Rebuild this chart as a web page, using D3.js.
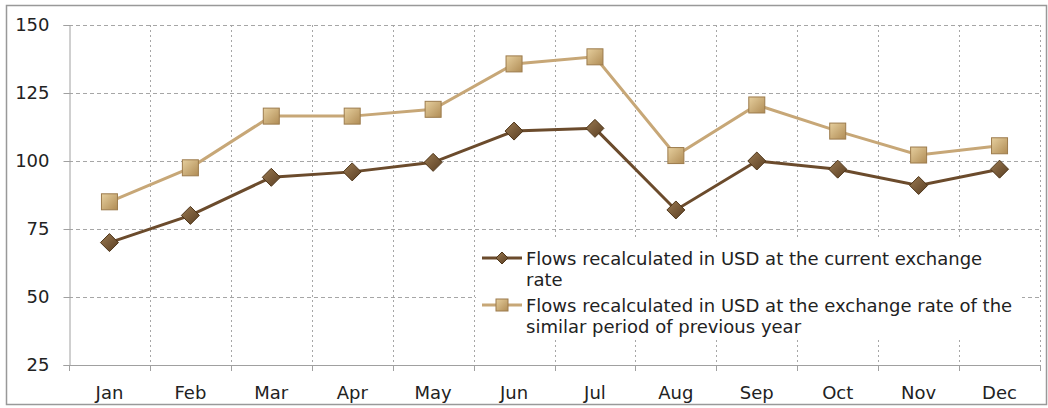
<!DOCTYPE html>
<html><head><meta charset="utf-8">
<script src="https://cdn.jsdelivr.net/npm/d3@7/dist/d3.min.js"></script>
<style>body{margin:0;background:#fff}svg{display:block}</style>
</head><body><svg id="c" width="1048" height="408"></svg>
<script>
const months = ["Jan","Feb","Mar","Apr","May","Jun","Jul","Aug","Sep","Oct","Nov","Dec"];
const current = [70, 80, 94, 96, 99.5, 111, 112, 82, 100, 97, 91, 97];
const previous = [85, 97.5, 116.5, 116.5, 119, 135.7, 138.3, 102, 120.6, 111, 102.2, 105.6];
const yTicks = [25, 50, 75, 100, 125, 150];
const legendLabels = [
  ["Flows recalculated in USD at the current exchange", "rate"],
  ["Flows recalculated in USD at the exchange rate of the", "similar period of previous year"]
];

const svg = d3.select("#c");
const font = "DejaVu Sans, Verdana, sans-serif";
const L = 69, R = 1040, T = 25, B = 365;
const x = d3.scaleBand().domain(months).range([L, R]);
const y = d3.scaleLinear().domain([25, 150]).range([B, T]);

const defs = svg.append("defs");
const g1 = defs.append("linearGradient").attr("id","gDark").attr("x1","0").attr("y1","0").attr("x2","1").attr("y2","1");
g1.append("stop").attr("offset","0").attr("stop-color","#9a7a52");
g1.append("stop").attr("offset","1").attr("stop-color","#5a3e22");
const g2 = defs.append("linearGradient").attr("id","gLight").attr("x1","0").attr("y1","0").attr("x2","1").attr("y2","1");
g2.append("stop").attr("offset","0").attr("stop-color","#e6cf9e");
g2.append("stop").attr("offset","1").attr("stop-color","#b08c55");

// outer border
svg.append("rect").attr("x",6.5).attr("y",5.5).attr("width",1040).attr("height",399)
  .attr("fill","none").attr("stroke","#999").attr("stroke-width",1.5);

// horizontal grid
svg.append("g").selectAll("line").data(yTicks.filter(d=>d>25)).join("line")
  .attr("x1",L).attr("x2",R).attr("y1",d=>Math.round(y(d))+0.5).attr("y2",d=>Math.round(y(d))+0.5)
  .attr("stroke","#a6a6a6").attr("stroke-dasharray","4,3");
// vertical grid at band boundaries
const bounds = months.map(m => x(m)).slice(1).concat([R]);
svg.append("g").selectAll("line").data(bounds).join("line")
  .attr("x1",d=>Math.round(d)+0.5).attr("x2",d=>Math.round(d)+0.5).attr("y1",T).attr("y2",B)
  .attr("stroke","#a6a6a6").attr("stroke-dasharray","2,3");

// axes
const yAxis = svg.append("g").attr("transform",`translate(${L+0.5},0)`)
  .call(d3.axisLeft(y).tickValues(yTicks).tickSize(6).tickPadding(14));
yAxis.select(".domain").attr("stroke","#a0a0a0");
yAxis.selectAll(".tick line").attr("stroke","#a0a0a0");
yAxis.selectAll("text").attr("font-family",font).attr("font-size",18).attr("fill","#222");

const xAxis = svg.append("g").attr("transform",`translate(0,${B+0.5})`)
  .call(d3.axisBottom(x).tickSize(0).tickPadding(21));
xAxis.select(".domain").attr("stroke","#a0a0a0").attr("d",`M${L},0H${R}`);
xAxis.selectAll("text").attr("font-family",font).attr("font-size",18).attr("fill","#222");
svg.append("g").selectAll("line").data([L].concat(bounds)).join("line")
  .attr("x1",d=>Math.round(d)+0.5).attr("x2",d=>Math.round(d)+0.5).attr("y1",B).attr("y2",B+6)
  .attr("stroke","#a0a0a0");

const cx = m => x(m) + x.bandwidth()/2;
const line = d3.line().x((d,i)=>cx(months[i])).y(d=>y(d));

// lines
svg.append("path").datum(previous).attr("d",line).attr("fill","none").attr("stroke","#c7a777").attr("stroke-width",3);
svg.append("path").datum(current).attr("d",line).attr("fill","none").attr("stroke","#6b4b2c").attr("stroke-width",3);

function square(g, px, py){
  g.append("rect").attr("x",px-8).attr("y",py-8).attr("width",16).attr("height",16)
    .attr("fill","url(#gLight)").attr("stroke","#9c7b4c").attr("stroke-width",1);
}
function diamond(g, px, py){
  const s = 9;
  g.append("path").attr("d",`M${px},${py-s}L${px+s},${py}L${px},${py+s}L${px-s},${py}Z`)
    .attr("fill","url(#gDark)").attr("stroke","#4e3519").attr("stroke-width",1);
}
const mg = svg.append("g");
previous.forEach((v,i)=>square(mg, cx(months[i]), y(v)));
current.forEach((v,i)=>diamond(mg, cx(months[i]), y(v)));

// legend
const lg = svg.append("g");
lg.append("rect").attr("x",476).attr("y",237).attr("width",546).attr("height",100).attr("fill","#fff");
const rows = [
  {y:258, color:"#6b4b2c", kind:"d", base:265, lines:legendLabels[0]},
  {y:305, color:"#c7a777", kind:"s", base:312, lines:legendLabels[1]}
];
rows.forEach(r=>{
  lg.append("line").attr("x1",482).attr("x2",522).attr("y1",r.y).attr("y2",r.y).attr("stroke",r.color).attr("stroke-width",3);
  if (r.kind==="d"){
    lg.append("path").attr("d",`M502,${r.y-6}L508,${r.y}L502,${r.y+6}L496,${r.y}Z`).attr("fill","url(#gDark)").attr("stroke","#4e3519");
  } else {
    lg.append("rect").attr("x",496).attr("y",r.y-6).attr("width",12).attr("height",12).attr("fill","url(#gLight)").attr("stroke","#9c7b4c");
  }
  r.lines.forEach((t,i)=>{
    lg.append("text").attr("x",526).attr("y",r.base+i*21).text(t)
      .attr("font-family",font).attr("font-size",18).attr("fill","#222");
  });
});
</script></body></html>
